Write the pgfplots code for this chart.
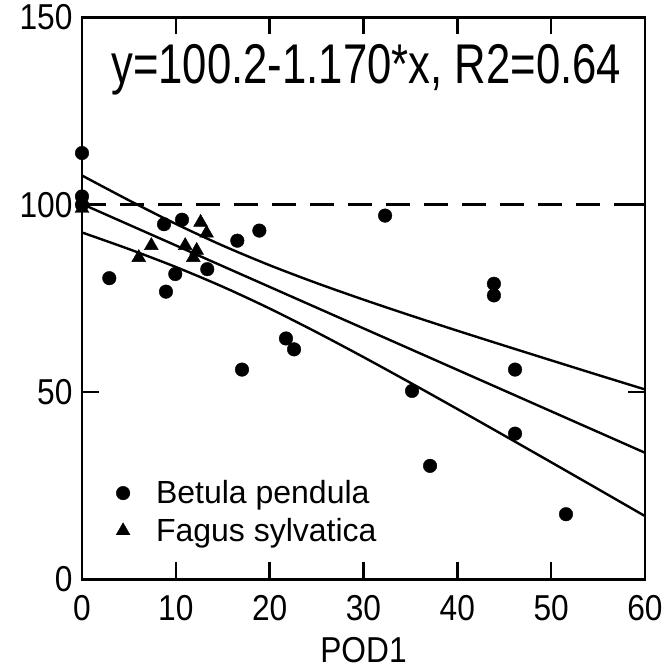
\documentclass[border=0pt]{standalone}
\usepackage{fontspec}
\setmainfont{Liberation Sans}
\newfontfamily\ticksfont{Liberation Sans}[FakeStretch=0.88]
\newfontfamily\eqfont{Liberation Sans}[FakeStretch=0.78]
\usepackage{pgfplots}
\pgfplotsset{compat=1.18}

\begin{document}
\begin{tikzpicture}
\begin{axis}[
  scale only axis, width=563pt, height=562pt,
  xmin=0, xmax=60, ymin=0, ymax=150,
  xtick={0,10,...,60}, ytick={0,50,100,150},
  tick align=inside, major tick length=17pt,
  axis line style={line width=2.6pt},
  every tick/.style={black, line width=2.6pt},
  /pgf/number format/assume math mode=true,
  tick label style={font=\ticksfont\fontsize{36}{40}\selectfont},
  xticklabel style={yshift=-12pt},
  yticklabel style={xshift=-6pt},
  xlabel={POD1},
  xlabel style={font=\ticksfont\fontsize{36}{40}\selectfont, yshift=-10pt},
  legend cell align=left,
  legend image code/.code={\draw[#1] plot coordinates {(0pt,0pt)};},
  legend style={draw=none, fill=none, at={(axis description cs:0.055,0.183)},
    anchor=north west, font=\fontsize{32}{36}\selectfont,
    column sep=24pt, row sep=9pt},
  clip=false,
]
% Betula pendula
\addplot[only marks, mark=*, mark size=6.8pt, mark options={fill=black, draw=black, line width=0.4pt}]
coordinates {
(0,113.8) (0,102.2) (0,100.0) (2.91,80.4) (8.74,94.8) (10.66,96.0)
(13.35,82.8) (9.94,81.5) (8.95,76.8) (16.55,90.4) (18.9,93.1)
(21.74,64.3) (22.6,61.4) (17.05,56.0) (32.3,97.1) (43.9,78.9)
(43.9,75.8) (46.15,56.0) (35.17,50.3) (46.15,38.9) (37.09,30.3)
(51.58,17.4)
};
\addlegendentry{Betula pendula}
% Fagus sylvatica
\addplot[only marks, mark=triangle*, mark size=8pt, mark options={fill=black, draw=black, line width=0.4pt}]
coordinates {
(0,99.0) (12.64,95.3) (13.28,92.4) (7.39,89.1) (6.05,85.9)
(11.0,89.1) (12.22,87.8) (11.86,85.9)
};
\addlegendentry{Fagus sylvatica}
% reference level
\addplot[black, line width=2.6pt, dash pattern=on 24pt off 14pt, forget plot]
coordinates {(0,100) (60,100)};
% regression line
\addplot[black, line width=2.4pt, forget plot] coordinates {(0,100.2) (60,33.8)};
% upper confidence band
\addplot[black, line width=2.4pt, smooth, forget plot] coordinates {
(0,107.8) (5,101.18) (10,94.88) (15,89.09) (20,83.85) (25,79.09) (30,74.67)
(35,70.46) (40,66.38) (45,62.4) (50,58.47) (55,54.56) (60,50.7)
};
% lower confidence band
\addplot[black, line width=2.4pt, smooth, forget plot] coordinates {
(0,92.6) (5,88.16) (10,83.38) (15,78.11) (20,72.29) (25,65.97) (30,59.33)
(35,52.47) (40,45.48) (45,38.4) (50,31.27) (55,24.1) (60,16.9)
};
\node[font=\eqfont\fontsize{56}{60}\selectfont] at (axis cs:30.3,136) {y=100.2-1.170*x, R2=0.64};
\end{axis}
\pgfresetboundingbox
\path[use as bounding box] ([shift={(-82pt,-89.6pt)}]current axis.south west)
  rectangle ([shift={(23pt,17.4pt)}]current axis.north east);
\end{tikzpicture}
\end{document}
